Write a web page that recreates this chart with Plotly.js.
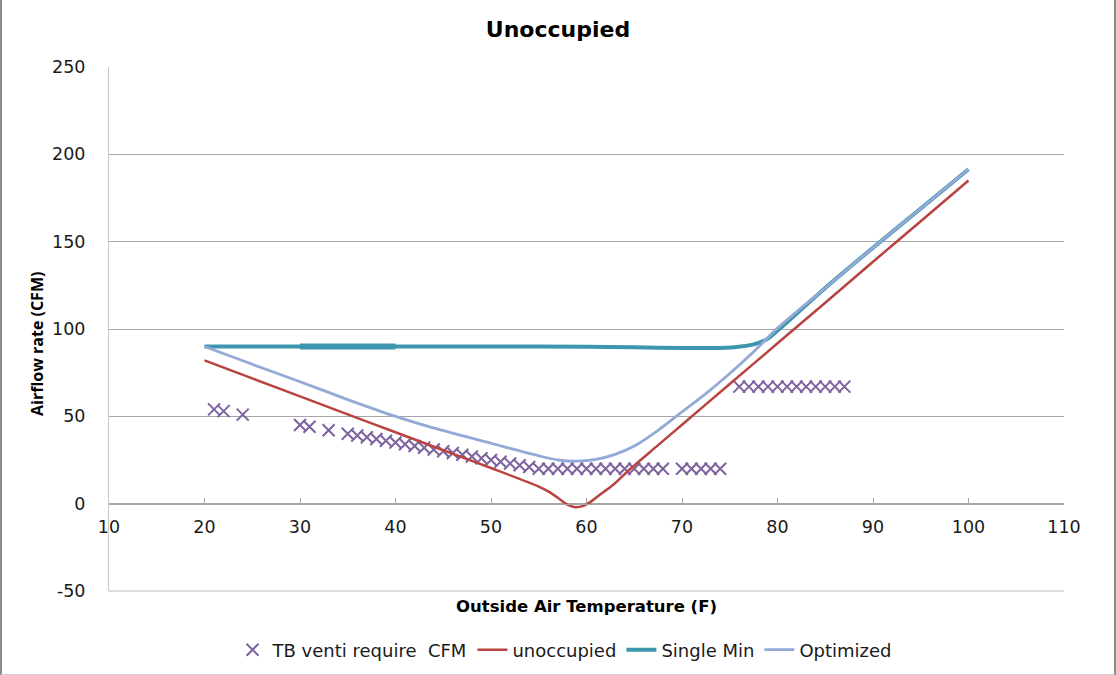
<!DOCTYPE html>
<html>
<head>
<meta charset="utf-8">
<script src="https://cdn.plot.ly/plotly-3.0.1.min.js"></script>
<style>
  html, body { margin: 0; padding: 0; background: #ffffff; }
  #wrap { position: relative; width: 1116px; height: 675px; }
  #chart { width: 1116px; height: 675px; }
  #frame { position: absolute; left: 0; top: 0; width: 1116px; height: 675px; box-sizing: border-box;
           border-left: 2px solid #8c8c8c; border-right: 2px solid #8c8c8c; border-bottom: 1px solid #cfcfcf;
           pointer-events: none; }
</style>
</head>
<body>
<div id="wrap"><div id="chart"></div><div id="frame"></div></div>
<script>
// ---- data ----
const tbTemp = [21, 22, 24, 30, 31, 33, 35, 36, 37, 38, 39, 40, 41, 42, 43, 44, 45, 46, 47, 48, 49, 50,
                51, 52, 53, 54, 55, 56, 57, 58, 59, 60, 61, 62, 63, 64, 65, 66, 67, 68,
                70, 71, 72, 73, 74,
                76, 77, 78, 79, 80, 81, 82, 83, 84, 85, 86, 87];
const tbCfm  = [54, 53, 51, 45, 44, 42, 40, 39, 38, 37, 36, 35, 34, 33, 32, 31, 30, 29, 28, 27, 26, 25,
                24, 23, 22, 21, 20, 20, 20, 20, 20, 20, 20, 20, 20, 20, 20, 20, 20, 20,
                20, 20, 20, 20, 20,
                67, 67, 67, 67, 67, 67, 67, 67, 67, 67, 67, 67];

const unoccTemp = [20, 25, 30, 35, 40, 45, 50, 55, 56, 57, 58, 58.8, 59.6, 60.3, 61.2, 62.8, 64.6, 67.5, 70, 75, 80, 85, 90, 95, 100];
const unoccCfm  = [82, 71.7, 61.4, 51.1, 40.9, 30.6, 20.4, 9.8, 7.0, 3.4, -0.6, -2.0, -1.4, 0.6, 4.3, 10.8, 20, 33.5, 45.2, 68.5, 91.8, 115, 138.5, 161.7, 185];

const singleTemp = [20, 30, 40, 50, 60, 65, 70, 73, 75.5, 77.5, 79, 80.5, 85, 90, 95, 100];
const singleCfm  = [90, 90, 90, 90, 89.8, 89.5, 89.1, 89.1, 89.6, 91.2, 94.5, 101.5, 123.5, 146.5, 169, 191.5];
const singleOverlapTemp = [30, 40];
const singleOverlapCfm  = [90, 90];

const optTemp = [20, 25, 30, 35, 40, 45, 50, 53, 55, 57, 59, 61, 63, 65, 67.5, 70, 72.5, 75, 77.5, 80, 85, 90, 95, 100];
const optCfm  = [90, 79.8, 69.8, 59.6, 50, 41.8, 34.6, 30.2, 27.4, 25.0, 24.3, 25.4, 28.2, 33, 42, 52.5, 63, 74.5, 87, 100.5, 123.5, 146.5, 169, 191.5];

const xTicks = [10, 20, 30, 40, 50, 60, 70, 80, 90, 100, 110];
const yTicks = [-50, 0, 50, 100, 150, 200, 250];

const FONT = 'DejaVu Sans, Open Sans, sans-serif';
const TXT = '#1a1a1a';

const traces = [
  { type: 'scatter', mode: 'markers', name: 'TB venti require  CFM', x: tbTemp, y: tbCfm,
    marker: { symbol: 'x-thin-open', size: 12, color: '#7d63a0', line: { color: '#7d63a0', width: 2 } } },
  { type: 'scatter', mode: 'lines', name: 'unoccupied', x: unoccTemp, y: unoccCfm,
    line: { color: '#b8433f', width: 2.5, shape: 'spline', smoothing: 0.7 } },
  { type: 'scatter', mode: 'lines', name: 'Single Min', x: singleTemp, y: singleCfm,
    line: { color: '#3d96ad', width: 4, shape: 'spline', smoothing: 0.7 } },
  { type: 'scatter', mode: 'lines', name: 'Single Min', x: singleOverlapTemp, y: singleOverlapCfm, showlegend: false,
    line: { color: '#3d96ad', width: 6 } },
  { type: 'scatter', mode: 'lines', name: 'Optimized', x: optTemp, y: optCfm,
    line: { color: '#92aad5', width: 2.8, shape: 'spline', smoothing: 0.7 } }
];

const layout = {
  width: 1116, height: 675,
  margin: { l: 109, r: 52, t: 67, b: 84, autoexpand: false },
  paper_bgcolor: '#ffffff', plot_bgcolor: '#ffffff',
  font: { family: FONT, color: TXT, size: 16 },
  title: { text: 'Unoccupied', font: { family: FONT, size: 22, color: '#000000', weight: 'bold' },
           x: 0.5, xref: 'container', xanchor: 'center', y: 1 - 29 / 675, yref: 'container', yanchor: 'middle' },
  showlegend: true,
  legend: { orientation: 'h', x: 0.477, xanchor: 'center', y: -0.1126, yanchor: 'middle',
            font: { family: FONT, size: 18, color: TXT }, bgcolor: 'rgba(0,0,0,0)' },
  xaxis: {
    range: [10, 110], tickmode: 'array', tickvals: xTicks, ticktext: xTicks.map(String),
    anchor: 'free', position: 1 / 6,
    showline: true, linecolor: '#a6a6a6', linewidth: 1,
    ticks: 'inside', ticklen: 6, tickcolor: '#a6a6a6', tickwidth: 1,
    showgrid: false, zeroline: false, ticklabelstandoff: 7,
    tickfont: { family: FONT, size: 17.5, color: TXT }, fixedrange: true
  },
  yaxis: {
    range: [-50, 250], tickmode: 'array', tickvals: yTicks, ticktext: yTicks.map(String),
    showline: true, linecolor: '#c8c8c8', linewidth: 1,
    showgrid: true, gridcolor: '#a6a6a6', gridwidth: 1, zeroline: false,
    ticks: '', ticklabelstandoff: 19, automargin: false,
    tickfont: { family: FONT, size: 17.5, color: TXT },
    fixedrange: true
  },
  shapes: [
    { type: 'line', xref: 'paper', yref: 'paper', x0: 0, x1: 1, y0: 0, y1: 0, line: { color: '#d0d0d0', width: 1.5 } }
  ],
  annotations: [
    { text: 'Outside Air Temperature (F)', xref: 'paper', yref: 'paper', x: 0.5, y: (591 - 606) / 524,
      xanchor: 'center', yanchor: 'middle', showarrow: false,
      font: { family: FONT, size: 16.5, color: '#000000', weight: 'bold' } },
    { text: 'Airflow rate (CFM)', xref: 'paper', yref: 'paper', x: (37 - 109) / 955, y: (591 - 344) / 524,
      xanchor: 'center', yanchor: 'middle', textangle: -90, showarrow: false,
      font: { family: 'Open Sans, sans-serif', size: 16, color: '#000000', weight: 'bold' } }
  ]
};

Plotly.newPlot('chart', traces, layout, { staticPlot: true, displayModeBar: false });
</script>
</body>
</html>
